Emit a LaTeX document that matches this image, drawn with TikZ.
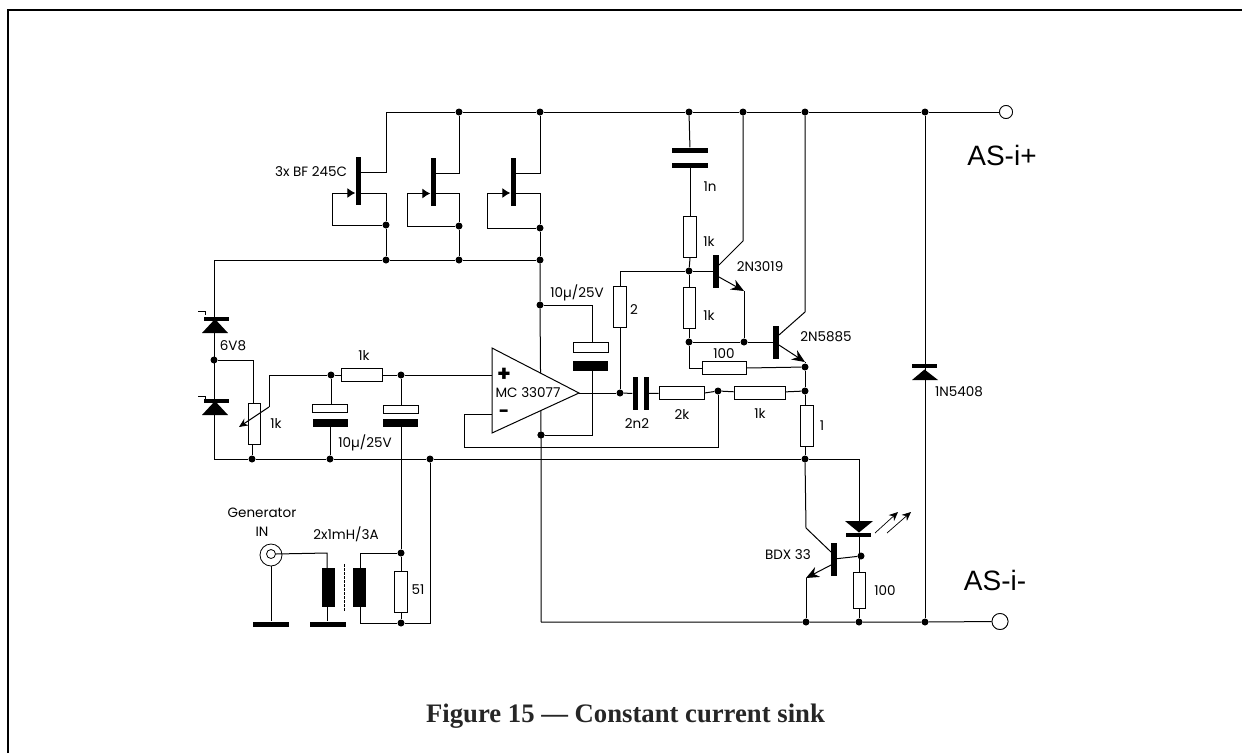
\documentclass[tikz,border=0pt]{standalone}
\usepackage{fontspec}
\setmainfont{Poppins}
\newfontfamily\capfont{Liberation Serif}
\newfontfamily\asfont{Liberation Sans}
\usetikzlibrary{arrows.meta}
\definecolor{capink}{gray}{0.15}
\tikzset{
  wire/.style={line width=1pt,black},
  dot/.style={circle,fill=black,inner sep=0pt,minimum size=7pt},
  vres/.style={draw=black,line width=0.8pt,fill=white,inner sep=0pt,minimum width=12.5pt,minimum height=41pt},
  hres/.style={draw=black,line width=0.8pt,fill=white,inner sep=0pt,minimum width=43pt,minimum height=12.5pt},
  bar/.style={fill=black,inner sep=0pt,minimum width=5pt,minimum height=48pt},
  tbar/.style={fill=black,inner sep=0pt,minimum width=5.5pt,minimum height=33pt},
  hplate/.style={fill=black,inner sep=0pt,minimum width=35pt,minimum height=8pt},
  wplate/.style={draw=black,line width=0.8pt,fill=white,inner sep=0pt,minimum width=35pt,minimum height=8pt},
  thinplate/.style={fill=black,inner sep=0pt,minimum width=36pt,minimum height=5pt},
  vplate/.style={fill=black,inner sep=0pt,minimum width=5pt,minimum height=33pt},
  coil/.style={fill=black,inner sep=0pt,minimum width=13pt,minimum height=39pt},
  zbar/.style={fill=black,inner sep=0pt,minimum width=25pt,minimum height=3.5pt},
  ztri/.style={fill=black},
  lbl/.style={inner sep=0pt,font=\fontsize{13.5}{15}\selectfont},
  aslbl/.style={inner sep=0pt,font=\asfont\fontsize{28}{30}\selectfont},
  term/.style={circle,draw=black,line width=0.8pt,fill=white,inner sep=0pt},
  tip/.style={-{Stealth[length=13pt,width=11pt]}},
  gatetip/.style={-{Latex[length=8pt,width=10pt]}},
  smalltip/.style={-{Stealth[length=9pt,width=8pt]}}
}
\begin{document}
\begin{tikzpicture}[x=1pt,y=-1pt]
\path[use as bounding box] (0,0) rectangle (1242,753);
% frame
\coordinate (fa) at (8,753); \coordinate (fb) at (8,10); \coordinate (fc) at (1242,10);
\draw[line width=2pt,black] (fa) -- (fb) -- (fc);

% components
\node[bar] (Q1) at (358,181) {};
\node[bar] (Q2) at (433,182) {};
\node[bar] (Q3) at (513,182) {};
\node[vres] (Rp) at (254.5,423.5) {};
\node[hres,minimum width=41pt] (Rin) at (362,375) {};
\node[vres] (R51) at (401,591.5) {};
\node[vres] (R1ka) at (690,237) {};
\node[vres] (R1kb) at (689.5,308) {};
\node[vres] (R2) at (620,307) {};
\node[hres,minimum width=44pt] (R100) at (724,368) {};
\node[hres,minimum width=45pt] (R2k) at (681.5,393) {};
\node[hres,minimum width=51pt] (R1k) at (759.5,393) {};
\node[vres] (R1) at (807,425.5) {};
\node[vres,minimum height=36pt] (R100b) at (859.5,590) {};
\node[tbar] (T1) at (716,271.5) {};
\node[tbar] (T2) at (776,342) {};
\node[tbar] (T3) at (834,559) {};

% junctions
\node[dot] (jt1) at (459,112) {};
\node[dot] (jt2) at (540,112) {};
\node[dot] (jt3) at (689,112) {};
\node[dot] (jt4) at (743,112) {};
\node[dot] (jt5) at (805,112) {};
\node[dot] (jt6) at (925,112) {};
\node[dot] (js1) at (386,225) {};
\node[dot] (js2) at (459,226) {};
\node[dot] (js3) at (540,228) {};
\node[dot] (jm1) at (386,260) {};
\node[dot] (jm2) at (459,260) {};
\node[dot] (jm3) at (540,260) {};
\node[dot] (jc1) at (540,305) {};
\node[dot] (jc2) at (541,435) {};
\node[dot] (jz) at (214,360) {};
\node[dot] (jr1) at (331,375) {};
\node[dot] (jr2) at (401,375) {};
\node[dot] (jg1) at (252,459) {};
\node[dot] (jg2) at (330,459) {};
\node[dot] (jg3) at (430,459) {};
\node[dot] (jg4) at (805,459) {};
\node[dot] (jl1) at (401,553) {};
\node[dot] (jl2) at (401,623) {};
\node[dot] (jo) at (620,393) {};
\node[dot] (jb1) at (689,271) {};
\node[dot] (jb2) at (689,342) {};
\node[dot] (jb3) at (744,342) {};
\node[dot] (jf) at (718,391) {};
\node[dot] (je1) at (805,367) {};
\node[dot] (je2) at (805,391) {};
\node[dot] (jq) at (861,556) {};
\node[dot] (jn1) at (806,622) {};
\node[dot] (jn2) at (859,622) {};
\node[dot] (jn3) at (925,622) {};
\coordinate (top0) at (386,112);
\coordinate (g1a) at (332,193); \coordinate (g1b) at (332,225);
\coordinate (g2a) at (407,193.5); \coordinate (g2b) at (407,226);
\coordinate (g3a) at (487,193); \coordinate (g3b) at (487,228);
\coordinate (lt) at (214,260); \coordinate (lb) at (214,459);
\coordinate (rg) at (859,459);
\node[term,minimum size=13pt] (tp) at (1006,112) {};
\node[term,minimum size=16pt] (tn) at (1000,621.5) {};

% power rails
\draw[wire] (top0) -- (jt1) -- (jt2) -- (jt3) -- (jt4) -- (jt5) -- (jt6) -- (tp);
\draw[wire] (lt) -- (jm1) -- (jm2) -- (jm3);
\draw[wire] (lt) -- (lb) -- (jg1) -- (jg2) -- (jg3) -- (jg4) -- (rg);
\draw[wire] (jc2 |- jn1) -- (jn1) -- (jn2) -- (jn3) -- (tn);
\draw[wire] (jt6) -- (jn3);

% FETs
\draw[wire] (top0) |- (Q1.east |- 0,172);
\draw[wire] (jt1) |- (Q2.east |- 0,173);
\draw[wire] (jt2) |- (Q3.east |- 0,173);
\draw[wire] (Q1.east |- 0,193) -| (js1);
\draw[wire] (Q2.east |- 0,193.5) -| (js2);
\draw[wire] (Q3.east |- 0,193) -| (js3);
\draw[wire] (js1) -- (jm1); \draw[wire] (js2) -- (jm2); \draw[wire] (js3) -- (jm3);
\draw[wire] (js1) -- (g1b) -- (g1a);
\draw[wire] (js2) -- (g2b) -- (g2a);
\draw[wire] (js3) -- (g3b) -- (g3a);
\draw[wire,gatetip] (g1a) -- (Q1.west |- g1a);
\draw[wire,gatetip] (g2a) -- (Q2.west |- g2a);
\draw[wire,gatetip] (g3a) -- (Q3.west |- g3a);

% supply vertical through opamp region
\draw[wire] (jm3) -- (jc1) -- (jc2) -- (jc2 |- jn1);

% zener stack
\coordinate (z1) at (215,319); \coordinate (z2) at (215,401);
\node[zbar] (Z1bar) at (216,319) {};
\node[zbar] (Z2bar) at (216,401) {};
\path[ztri] (z1) -- ++(-13,14) -- ++(26,0) -- cycle;
\path[ztri] (z2) -- ++(-13,14) -- ++(26,0) -- cycle;
\coordinate (fl1a) at (198,311); \coordinate (fl1b) at (205,311); \coordinate (fl1c) at (205,315);
\coordinate (fl2a) at (198,396); \coordinate (fl2b) at (205,396); \coordinate (fl2c) at (205,400);
\draw[line width=0.6pt] (fl1a) -- (fl1b) -- (fl1c);
\draw[line width=0.6pt] (fl2a) -- (fl2b) -- (fl2c);

% pot
\coordinate (pw) at (253,360);
\draw[wire] (jz) -- (pw) -- (Rp.north -| pw);
\draw[wire] (Rp.south -| jg1) -- (jg1);
\coordinate (wt) at (269,375); \coordinate (wm) at (269,407); \coordinate (wa) at (239,427);
\draw[wire] (jr1) -- (wt) -- (wm);
\draw[wire,smalltip] (wm) -- (wa);

% input filter
\draw[wire] (jr1) -- (Rin) -- (jr2);
\node[wplate] (C1w) at (330,408) {};
\node[hplate] (C1b) at (330,423) {};
\node[wplate] (C2w) at (400.5,409) {};
\node[hplate] (C2b) at (400.5,423) {};
\draw[wire] (jr1) -- (C1w.north -| jr1);
\draw[wire] (C1b.south -| jg2) -- (jg2);
\draw[wire] (jr2) -- (C2w.north -| jr2);
\draw[wire] (C2b.south -| jl1) -- (jl1);
\draw[wire] (jl1) -- (R51) -- (jl2);
\coordinate (rb) at (430,623);
\draw[wire] (jg3) -- (rb) -- (jl2);

% generator and inductors
\node[coil] (L1) at (328,587.5) {};
\node[coil] (L2) at (359.5,587.5) {};
\node[circle,draw=black,line width=0.8pt,minimum size=22pt,inner sep=0pt] (cx) at (271,555) {};
\node[circle,draw=black,line width=0.8pt,minimum size=9pt,inner sep=0pt] (cxi) at (271,554) {};
\coordinate (l1t) at (327,553); \coordinate (l2t) at (360,553);
\draw[wire] (cxi.east) -- (l1t) -- (L1.north -| l1t);
\draw[wire] (jl1) -- (l2t) -- (L2.north -| l2t);
\draw[wire] (L2.south -| l2t) |- (jl2);
\node[thinplate] (G1) at (271,624) {};
\node[thinplate] (G2) at (327.5,624) {};
\draw[wire] (cx.south) -- (G1.north -| cx);
\draw[wire] (L1.south -| l1t) -- (G2.north -| l1t);
\coordinate (da) at (344,564); \coordinate (db) at (344,612);
\draw[line width=1pt,dash pattern=on 2.5pt off 1.5pt] (da) -- (db);

% op amp
\coordinate (oa1) at (492,348); \coordinate (oa2) at (492,433); \coordinate (oa3) at (579,393);
\draw[wire] (jr2) -- (oa1 |- jr2);
\coordinate (mi1) at (464,414); \coordinate (mi2) at (464,447); \coordinate (mi3) at (718,447);
\draw[wire] (oa1 |- mi1) -- (mi1) -- (mi2) -- (mi3) -- (jf);
\draw[line width=1pt,fill=white] (oa1) -- (oa3) -- (oa2) -- cycle;
\node[lbl,font=\bfseries\fontsize{22}{24}\selectfont] (plus) at (504,375) {+};
\node[lbl,font=\bfseries\fontsize{18}{20}\selectfont] (minus) at (504,414) {-};
\node[lbl,font=\fontsize{13.5}{15}\selectfont] (mc) at (528,393) {MC 33077};
\node[dot] (jc2b) at (jc2) {};

% output cap
\coordinate (cw) at (592,305);
\node[wplate,minimum height=10pt] (C3w) at (590.5,347) {};
\node[hplate,minimum height=10pt] (C3b) at (590.5,366) {};
\coordinate (cl) at (592,435);
\draw[wire] (jc1) -- (cw) -- (C3w.north -| cw);
\draw[wire] (C3b.south -| cw) -- (cl) -- (jc2);
\draw[wire] (oa3) -- (jo);

% output chain
\node[vplate] (C4a) at (635,393.5) {};
\node[vplate] (C4b) at (646,393.5) {};
\draw[wire] (jo) -- (C4a);
\draw[wire] (C4b) -- (R2k);
\draw[wire] (R2k.east) -- (jf);
\draw[wire] (jf) -- (R1k) -- (je2);
\draw[wire] (jo) -- (R2) -- (R2.north |- jb1) -- (jb1);
\draw[wire] (jb1) -- (T1.west |- jb1);
\node[thinplate] (C5a) at (690,150) {};
\node[thinplate] (C5b) at (690,165) {};
\draw[wire] (jt3) -- (C5a);
\draw[wire] (C5b.south -| R1ka) -- (R1ka.north);
\draw[wire] (R1ka.south) -- (jb1);
\draw[wire] (jb1) -- (R1kb.north -| jb1);
\draw[wire] (R1kb.south -| jb2) -- (jb2);
\draw[wire] (jb2) -- (jb3) -- (T2.west |- jb3);
\draw[wire] (jb2) |- (R100.west);
\draw[wire] (R100.east) -- (je1);
\draw[wire] (je1) -- (je2) -- (R1.north -| je2);
\draw[wire] (R1.south -| jg4) -- (jg4);

% T1
\coordinate (t1c) at (743,241);
\coordinate (t1e) at (744,291);
\draw[wire] (jt4) -- (t1c) -- (T1.east |- 0,265);
\draw[wire,tip] (T1.east |- 0,277) -- (t1e);
\draw[wire] (t1e) -- (jb3);
% T2
\coordinate (t2c) at (805,312);
\coordinate (t2e) at (805,362);
\draw[wire] (jt5) -- (t2c) -- (T2.east |- 0,335);
\draw[wire,tip] (T2.east |- 0,345) -- (t2e);
\draw[wire] (t2e) -- (je1);
% T3
\coordinate (t3c) at (806,528);
\coordinate (t3e) at (806,578);
\draw[wire] (jg4) -- (t3c) -- (T3.west |- 0,552);
\draw[wire,tip] (T3.west |- 0,565) -- (t3e);
\draw[wire] (t3e) -- (jn1);
\draw[wire] (T3) -- (jq);

% LED
\path[ztri] (859,532.5) -- (845,521) -- (873,521) -- cycle;
\node[zbar] (Lbar) at (858.5,535) {};
\draw[wire] (rg) -- (859,532) ;
\draw[wire] (Lbar.south -| jn2) -- (R100b.north -| jn2);
\draw[wire] (R100b.south -| jn2) -- (jn2);
\coordinate (a1s) at (875,533); \coordinate (a1e) at (898,512);
\coordinate (a2s) at (887,533); \coordinate (a2e) at (911,512);
\draw[line width=0.7pt,smalltip] (a1s) -- (a1e);
\draw[line width=0.7pt,smalltip] (a2s) -- (a2e);

% main zener
\node[zbar] (Zmbar) at (924.5,366) {};
\path[ztri] (924.5,369.5) -- (912,380) -- (938,380) -- cycle;

% terminals again
\node[term,minimum size=13pt] (tp2) at (tp) {};
\node[term,minimum size=16pt] (tn2) at (tn) {};

% labels
\node[lbl] (l3x) at (311,172) {3x BF 245C};
\node[lbl] (l6v) at (233,346) {6V8};
\node[lbl] (lk1) at (364,355) {1k};
\node[lbl] (lk2) at (276,423) {1k};
\node[lbl] (lc1) at (365,443) {10µ/25V};
\node[lbl] (lg) at (262,513) {Generator};
\node[lbl] (lin) at (262,532) {IN};
\node[lbl] (ll) at (346,534) {2x1mH/3A};
\node[lbl] (l51) at (418,590) {51};
\node[lbl] (lc2) at (577,293) {10µ/25V};
\node[lbl] (l2) at (634,310) {2};
\node[lbl] (l100) at (724,354) {100};
\node[lbl] (l2n2) at (637,424) {2n2};
\node[lbl] (l2k) at (682,414) {2k};
\node[lbl] (lk3) at (760,413) {1k};
\node[lbl] (l1) at (822,426) {1};
\node[lbl] (l1n) at (710,187) {1n};
\node[lbl] (lk4) at (709,241) {1k};
\node[lbl] (lk5) at (709,315) {1k};
\node[lbl] (lt1) at (760,267) {2N3019};
\node[lbl] (lt2) at (826,337) {2N5885};
\node[lbl] (lz) at (959,392) {1N5408};
\node[lbl] (lt3) at (788,555) {BDX 33};
\node[lbl] (l100b) at (885,591) {100};
\node[aslbl] (asp) at (1002,155) {AS-i+};
\node[aslbl] (asn) at (995,580) {AS-i-};
\node[inner sep=0pt,anchor=base,text=capink,font=\capfont\bfseries\fontsize{26.7}{28}\selectfont] (cap) at (625.5,722) {Figure 15 — Constant current sink};
\end{tikzpicture}
\end{document}
